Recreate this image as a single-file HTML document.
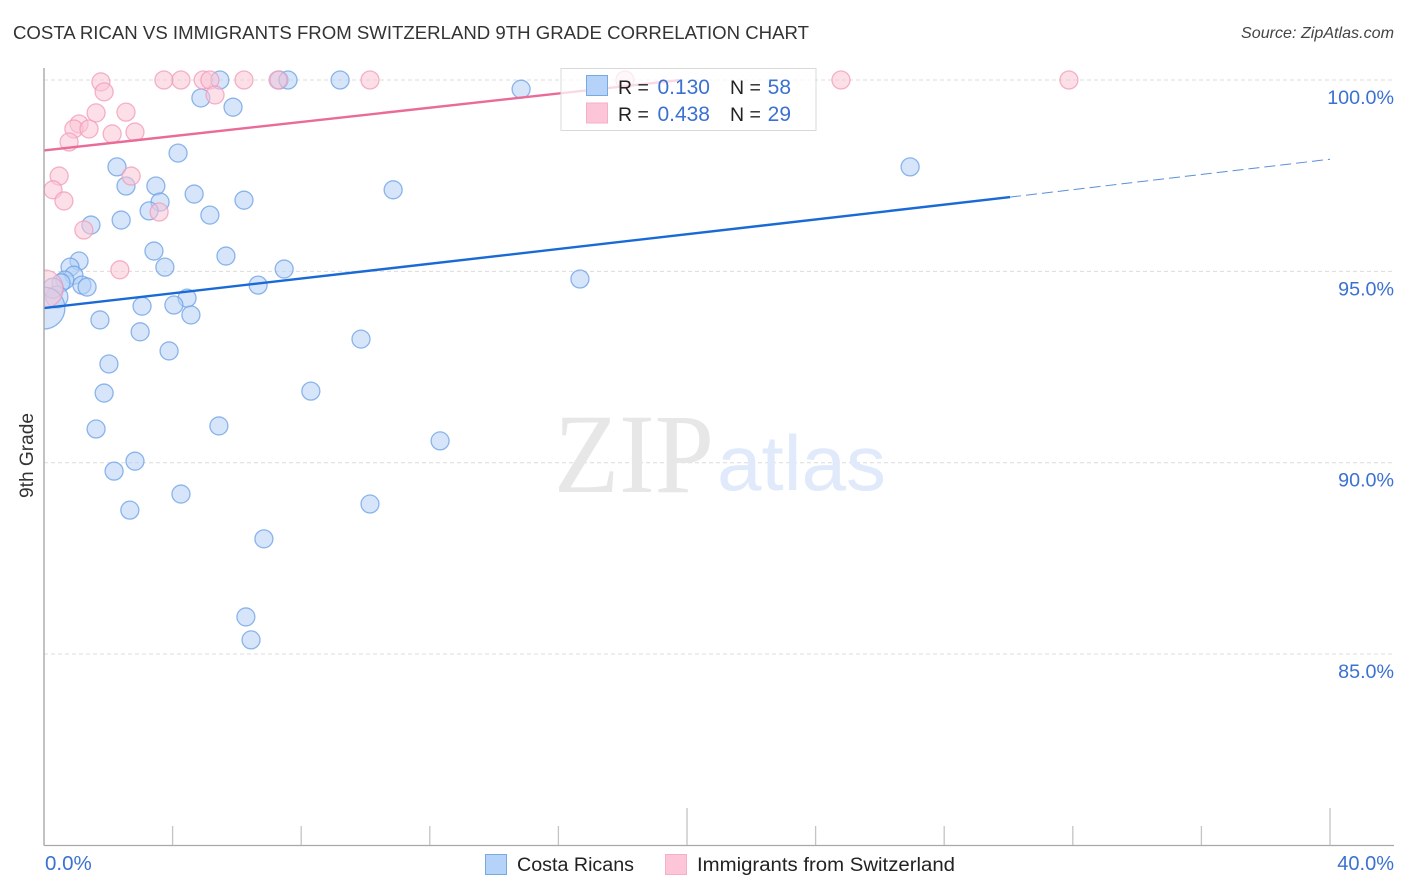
<!DOCTYPE html>
<html lang="en">
<head>
<meta charset="utf-8">
<title>Costa Rican vs Immigrants from Switzerland 9th Grade Correlation Chart</title>
<style>
html,body{margin:0;padding:0;background:#fff;width:1406px;height:892px;overflow:hidden}
svg{display:block;font-family:"Liberation Sans",sans-serif}
</style>
</head>
<body>
<svg id="chart" width="1406" height="892" viewBox="0 0 1406 892" xmlns="http://www.w3.org/2000/svg">
  <defs><clipPath id="plot-clip"><rect x="44" y="60" width="1350" height="785"/></clipPath></defs>
  <text x="13" y="39" font-size="18.5" fill="#333" textLength="796" lengthAdjust="spacingAndGlyphs">COSTA RICAN VS IMMIGRANTS FROM SWITZERLAND 9TH GRADE CORRELATION CHART</text>
  <text x="1394" y="38" font-size="16" font-style="italic" fill="#444" text-anchor="end" textLength="153" lengthAdjust="spacingAndGlyphs">Source: ZipAtlas.com</text>
  <g id="grid"></g>
  <text x="554" y="492" font-family="'Liberation Serif',serif" font-size="113" fill="#e7e7e7" textLength="160" lengthAdjust="spacingAndGlyphs">ZIP</text>
  <text x="717" y="490" font-size="78" fill="#e0eafa" textLength="169" lengthAdjust="spacingAndGlyphs">atlas</text>
  <g id="points-blue" clip-path="url(#plot-clip)"></g>
  <g id="points-pink" clip-path="url(#plot-clip)"></g>
  <g id="trends"></g>
  <g id="axes"></g>
  <text transform="translate(33,455.5) rotate(-90)" font-size="19" fill="#333" text-anchor="middle" textLength="85" lengthAdjust="spacingAndGlyphs">9th Grade</text>

  <g>
    <rect x="561" y="68.5" width="255" height="62" fill="#fff" fill-opacity="0.75" stroke="#d9d9d9" stroke-width="1"/>
    <rect x="586.5" y="75.5" width="21" height="20" fill="#b5d2f8" stroke="#7aa8e0"/>
    <rect x="586.5" y="103" width="21" height="20" fill="#fcc6d8" stroke="#f3b0c8"/>
    <text x="618" y="94" font-size="19.5" fill="#222">R =</text>
    <text x="710" y="94" font-size="21" fill="#3b71d0" text-anchor="end">0.130</text>
    <text x="730" y="94" font-size="19.5" fill="#222">N =</text>
    <text x="791" y="94" font-size="21" fill="#3b71d0" text-anchor="end">58</text>
    <text x="618" y="121" font-size="19.5" fill="#222">R =</text>
    <text x="710" y="121" font-size="21" fill="#3b71d0" text-anchor="end">0.438</text>
    <text x="730" y="121" font-size="19.5" fill="#222">N =</text>
    <text x="791" y="121" font-size="21" fill="#3b71d0" text-anchor="end">29</text>
  </g>

  <g>
    <rect x="485.5" y="854.5" width="21" height="20" fill="#b5d2f8" stroke="#7aa8e0"/>
    <text x="517" y="871" font-size="19" fill="#222" textLength="117" lengthAdjust="spacingAndGlyphs">Costa Ricans</text>
    <rect x="665.5" y="854.5" width="21" height="20" fill="#fcc6d8" stroke="#f3b0c8"/>
    <text x="697" y="871" font-size="19" fill="#222" textLength="258" lengthAdjust="spacingAndGlyphs">Immigrants from Switzerland</text>
  </g>
</svg>
<script>
const blueX = [5.47,7.31,7.59,9.21,14.84,4.88,5.88,4.17,2.27,26.94,2.55,3.48,4.67,10.86,6.22,3.61,3.27,5.16,2.40,1.46,3.42,5.66,3.76,7.47,1.09,0.81,0.93,0.65,0.53,16.67,6.66,1.18,1.34,4.45,4.04,3.05,4.57,1.74,2.99,9.86,3.89,2.02,1.87,8.30,1.62,5.44,12.32,2.83,2.18,4.26,10.14,2.67,6.84,6.28,6.44,0.40,0.28,0.0];
const blueY = [100,100,100,100,99.76,99.53,99.29,98.09,97.73,97.73,97.23,97.23,97.02,97.13,96.86,96.81,96.58,96.47,96.34,96.21,95.53,95.40,95.11,95.06,95.27,95.11,94.90,94.77,94.70,94.80,94.64,94.64,94.59,94.30,94.12,94.09,93.86,93.73,93.42,93.23,92.92,92.58,91.82,91.87,90.88,90.96,90.57,90.04,89.78,89.18,88.92,88.76,88.01,85.97,85.37,94.33,94.56,94.04];
const blueWeight = [1,1,1,1,1,1,1,1,1,1,1,1,1,1,1,1,1,1,1,1,1,1,1,1,1,1,1,1,1,1,1,1,1,1,1,1,1,1,1,1,1,1,1,1,1,1,1,1,1,1,1,1,1,1,1,1.5,1.25,5.4];
const pinkX = [1.77,1.87,3.73,4.26,4.95,5.16,5.32,6.22,7.28,10.14,18.07,24.79,31.88,1.62,2.55,1.09,0.93,1.40,2.12,2.83,0.78,0.47,2.71,0.28,0.62,3.58,1.24,2.36,0.0];
const pinkY = [99.95,99.69,100,100,100,100,99.61,100,100,100,100,100,100,99.14,99.16,98.85,98.72,98.72,98.59,98.64,98.38,97.49,97.49,97.13,96.84,96.55,96.08,95.04,94.54];
const pinkWeight = [1,1,1,1,1,1,1,1,1,1,1,1,1,1,1,1,1,1,1,1,1,1,1,1,1,1,1,1,4.5];
const blueTrendX = [0,30.05];
const blueTrendY = [94.04,96.94];
const blueForecastX = [30.05,40];
const blueForecastY = [96.94,97.93];
const pinkTrendX = [0,19.8];
const pinkTrendY = [98.16,100];
const yTicks = [100,95,90,85];
const yTickLabels = ["100.0%","95.0%","90.0%","85.0%"];
const xTicks = [0,4,8,12,16,20,24,28,32,36,40];
const xMajorTicks = [20,40];
const xEdgeLabels = ["0.0%","40.0%"];

const SVG_NS = 'http://www.w3.org/2000/svg';
function xScale(v){ return 44 + v * 32.15; }
function yScale(v){ return 80 + (100 - v) * 38.27; }
function rScale(w){ return 9 * Math.sqrt(w); }
function make(tag, attrs, parent){
  const el = document.createElementNS(SVG_NS, tag);
  Object.keys(attrs).forEach(function(k){ el.setAttribute(k, attrs[k]); });
  parent.appendChild(el);
  return el;
}

const grid = document.getElementById('grid');
yTicks.forEach(function(t, i){
  const g = make('line', {x1:44, x2:1394, y1:yScale(t), y2:yScale(t), stroke:'#dcdcdc', 'stroke-width':1, 'stroke-dasharray':'4 3'}, grid);
  
  
  const lab = make('text', {x:1394, y:yScale(t) + 24, 'font-size':19.7, fill:'#3b71d0', 'text-anchor':'end'}, grid);
  lab.textContent = yTickLabels[i];
  
  
});

function drawPoints(groupId, xs, ys, ws, fill, stroke, name){
  const group = document.getElementById(groupId);
  xs.forEach(function(x, i){
    const c = make('circle', {cx:xScale(x), cy:yScale(ys[i]), r:rScale(ws[i]), fill:fill, 'fill-opacity':0.55, stroke:stroke, 'stroke-opacity':0.75, 'stroke-width':1.3}, group);
    
    
  });
}
drawPoints('points-blue', blueX, blueY, blueWeight, '#b4d0f6', '#6a9fe4', 'costa-ricans-point');
drawPoints('points-pink', pinkX, pinkY, pinkWeight, '#fbc4d6', '#f09ab8', 'switzerland-point');

const trends = document.getElementById('trends');
const t1 = make('line', {x1:xScale(blueTrendX[0]), y1:yScale(blueTrendY[0]), x2:xScale(blueTrendX[1]), y2:yScale(blueTrendY[1]), stroke:'#1a6ad6', 'stroke-width':2.4}, trends);


const t2 = make('line', {x1:xScale(blueForecastX[0]), y1:yScale(blueForecastY[0]), x2:xScale(blueForecastX[1]), y2:yScale(blueForecastY[1]), stroke:'#5b8fd8', 'stroke-width':1, 'stroke-dasharray':'11 5'}, trends);


const t3 = make('line', {x1:xScale(pinkTrendX[0]), y1:yScale(pinkTrendY[0]), x2:xScale(pinkTrendX[1]), y2:yScale(pinkTrendY[1]), stroke:'#ea6a98', 'stroke-width':2.4}, trends);



const axes = document.getElementById('axes');
const ax = make('line', {x1:44, x2:44, y1:68, y2:845.5, stroke:'#a8a8a8', 'stroke-width':1.4}, axes);


const bx = make('line', {x1:44, x2:1394, y1:845.5, y2:845.5, stroke:'#a8a8a8', 'stroke-width':1.2}, axes);


xTicks.forEach(function(t){
  if (t === 0) return;
  const top = xMajorTicks.indexOf(t) >= 0 ? 808 : 826;
  const tk = make('line', {x1:xScale(t), x2:xScale(t), y1:top, y2:845, stroke:'#c4c4c4', 'stroke-width':1.3}, axes);
  
  
});
const xl0 = make('text', {x:45, y:870, 'font-size':20.5, fill:'#3b71d0'}, axes);
xl0.textContent = xEdgeLabels[0];


const xl1 = make('text', {x:1394, y:870, 'font-size':20, fill:'#3b71d0', 'text-anchor':'end'}, axes);
xl1.textContent = xEdgeLabels[1];


</script>
</body>
</html>
